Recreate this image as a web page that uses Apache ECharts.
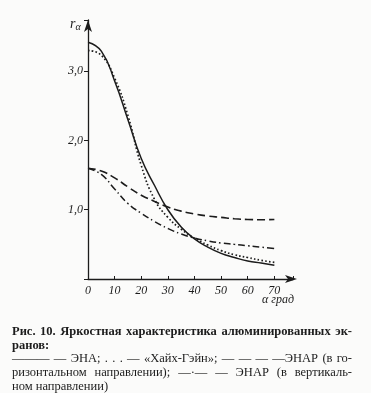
<!DOCTYPE html>
<html><head><meta charset="utf-8">
<script src="https://cdn.jsdelivr.net/npm/echarts@6/dist/echarts.min.js"></script>
<style>html,body{margin:0;padding:0;background:#fbfbfa;}#c{width:371px;height:393px;}</style>
</head><body><div id="c"></div>
<script>
const alpha = [0, 5, 10, 15, 20, 25, 30, 35, 40, 45, 50, 55, 60, 65, 70];
const ena = [3.42, 3.29, 2.86, 2.30, 1.74, 1.35, 1.00, 0.75, 0.58, 0.46, 0.37, 0.31, 0.26, 0.23, 0.20];
const highGain = [3.30, 3.23, 2.90, 2.36, 1.64, 1.15, 0.89, 0.72, 0.59, 0.49, 0.41, 0.35, 0.31, 0.27, 0.24];
const enarH = [1.60, 1.56, 1.46, 1.33, 1.21, 1.12, 1.04, 0.98, 0.94, 0.91, 0.89, 0.87, 0.86, 0.855, 0.86];
const enarV = [1.60, 1.51, 1.30, 1.09, 0.95, 0.83, 0.73, 0.65, 0.59, 0.55, 0.52, 0.50, 0.48, 0.46, 0.44];
const xTickLabels = ['0', '10', '20', '30', '40', '50', '60', '70'];
const yTickLabels = ['1,0', '2,0', '3,0'];
const captionLines = [
  {text: 'Рис. 10. Яркостная характеристика алюминированных эк-', bold: true, justify: true},
  {text: 'ранов:', bold: true, justify: false},
  {text: '——— — ЭНА; . . . — «Хайх-Гэйн»; — — — —ЭНАР (в го-', bold: false, justify: true},
  {text: 'ризонтальном направлении); —·— — ЭНАР (в вертикаль-', bold: false, justify: true},
  {text: 'ном направлении)', bold: false, justify: false}
];

const INK = '#1c1c1c';
const chart = echarts.init(document.getElementById('c'));
const zip = ys => alpha.map((a, i) => [a, ys[i]]);
const mk = (name, ys, type, w) => ({
  name, type: 'line', data: zip(ys), smooth: 0.5,
  showSymbol: false, silent: true,
  lineStyle: {color: INK, width: w, type: type}
});

const measure = document.createElement('canvas').getContext('2d');
const graphics = [];
const capFont = '"Liberation Serif", "DejaVu Serif", serif';
const capLeft = 12, capRight = 352, capTop = 332, capStep = 13.6, capSize = 12.5;
captionLines.forEach((ln, li) => {
  const y = capTop + li * capStep;
  const weight = ln.bold ? 'bold' : 'normal';
  const font = weight + ' ' + capSize + 'px ' + capFont;
  measure.font = font;
  const words = ln.text.split(' ');
  if (!ln.justify) {
    graphics.push({type: 'text', x: capLeft, y: y, style: {text: ln.text, fill: INK, font: font, verticalAlign: 'middle'}});
    return;
  }
  const widths = words.map(w => measure.measureText(w).width);
  const total = widths.reduce((a, b) => a + b, 0);
  const gap = (capRight - capLeft - total) / (words.length - 1);
  let x = capLeft;
  words.forEach((w, i) => {
    graphics.push({type: 'text', x: x, y: y, style: {text: w, fill: INK, font: font, verticalAlign: 'middle'}});
    x += widths[i] + gap;
  });
});
graphics.push({type: 'text', x: 262, y: 300, style: {text: 'α град', fill: INK, font: 'italic 12px ' + capFont, verticalAlign: 'middle'}});
graphics.push({type: 'text', x: 70, y: 24, style: {rich: {r: {fontFamily: capFont, fontStyle: 'italic', fontSize: 14, fill: INK, color: INK}, s: {fontFamily: capFont, fontStyle: 'italic', fontSize: 10, fill: INK, color: INK, padding: [6, 0, 0, 0]}}, text: '{r|r}{s|α}', fill: INK, verticalAlign: 'middle'}});

chart.setOption({
  animation: false,
  backgroundColor: '#fbfbfa',
  grid: {left: 88, right: 78, top: 20, bottom: 114, containLabel: false},
  xAxis: {
    type: 'value', min: 0, max: 77, interval: 10,
    axisLine: {lineStyle: {color: INK, width: 1.3}, symbol: ['none', 'arrow'], symbolSize: [6, 12], symbolOffset: [0, 4]},
    axisTick: {show: true, inside: true, length: 3, lineStyle: {color: INK}},
    splitLine: {show: false},
    axisLabel: {
      color: INK, fontFamily: capFont, fontStyle: 'italic', fontSize: 12, margin: 6,
      formatter: v => { const i = Math.round(v / 10); return (Math.abs(v - i * 10) < 1e-6 && xTickLabels[i] !== undefined) ? xTickLabels[i] : ''; }
    }
  },
  yAxis: {
    type: 'value', min: 0, max: 3.74, interval: 1,
    axisLine: {lineStyle: {color: INK, width: 1.3}, symbol: ['none', 'arrow'], symbolSize: [6, 12]},
    axisTick: {show: true, inside: false, length: 4, lineStyle: {color: INK}},
    splitLine: {show: false},
    axisLabel: {
      color: INK, fontFamily: capFont, fontStyle: 'italic', fontSize: 12, margin: 5,
      formatter: v => { const i = Math.round(v); return (Math.abs(v - i) < 1e-6 && i >= 1 && yTickLabels[i - 1]) ? yTickLabels[i - 1] : ''; }
    }
  },
  series: [
    mk('ЭНА', ena, 'solid', 1.5),
    mk('Хайх-Гэйн', highGain, [1.6, 2.2], 1.7),
    mk('ЭНАР гор.', enarH, [8, 4], 1.6),
    mk('ЭНАР верт.', enarV, [7, 3, 1.5, 3], 1.5)
  ],
  graphic: graphics
});
</script></body></html>
